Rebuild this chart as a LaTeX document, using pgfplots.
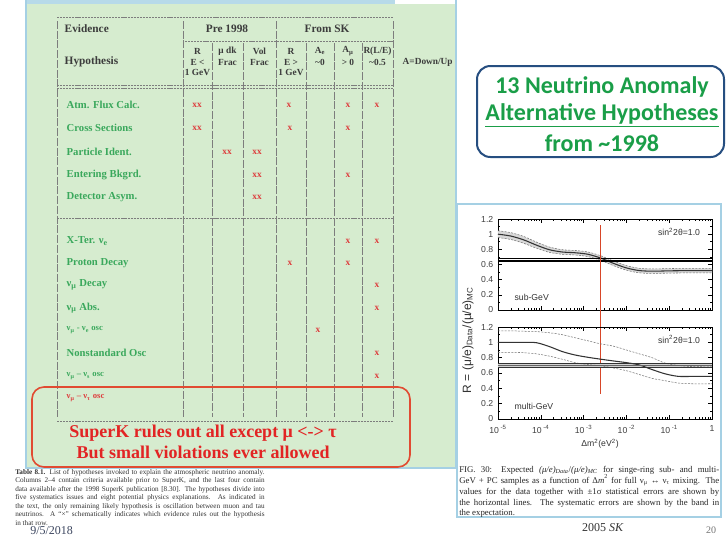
\documentclass[border=0pt]{standalone}
\usepackage{pgfplots}
\pgfplotsset{compat=1.18}
\usepackage{pgfplotstable}
\usepackage{fontspec}
\setmainfont{Liberation Serif}
\newfontfamily\sans{Liberation Sans}
\newfontfamily\carl{Carlito}
\newcommand\fs[1]{\fontsize{#1}{#1}\selectfont}
\definecolor{panelgreen}{RGB}{214,236,207}
\definecolor{txtgreen}{RGB}{58,168,92}
\definecolor{xred}{RGB}{222,62,62}
\definecolor{lblue}{RGB}{165,208,228}
\definecolor{dblue}{RGB}{38,78,128}
\definecolor{titlegreen}{RGB}{26,158,72}
\definecolor{redline}{RGB}{215,70,40}
\definecolor{hdr}{RGB}{60,60,60}
\definecolor{barg}{RGB}{125,125,125}
\definecolor{boxred}{RGB}{225,75,50}
\definecolor{msgred}{RGB}{226,36,36}

\pgfplotstableread{
x c u l
1e-5 1.00 1.045 0.955
2e-5 0.975 1.02 0.93
3.98e-5 0.925 0.97 0.88
7.94e-5 0.855 0.895 0.815
1.585e-4 0.795 0.83 0.76
3.16e-4 0.765 0.795 0.735
6.31e-4 0.755 0.785 0.725
1.26e-3 0.735 0.765 0.705
2.51e-3 0.685 0.715 0.655
5.01e-3 0.615 0.645 0.585
1e-2 0.555 0.585 0.525
2e-2 0.52 0.55 0.49
3.98e-2 0.512 0.542 0.482
7.94e-2 0.515 0.545 0.485
0.158 0.518 0.548 0.488
1 0.52 0.55 0.49
}\subgev

\pgfplotstableread{
x y
1e-5 1.045
2e-5 1.02
3.98e-5 0.97
7.94e-5 0.895
1.585e-4 0.83
3.16e-4 0.795
6.31e-4 0.785
1.26e-3 0.765
2.51e-3 0.715
5.01e-3 0.645
1e-2 0.585
2e-2 0.55
3.98e-2 0.542
7.94e-2 0.545
0.158 0.548
1 0.55
1 0.49
0.158 0.488
7.94e-2 0.485
3.98e-2 0.482
2e-2 0.49
1e-2 0.525
5.01e-3 0.585
2.51e-3 0.655
1.26e-3 0.705
6.31e-4 0.725
3.16e-4 0.735
1.585e-4 0.76
7.94e-5 0.815
3.98e-5 0.88
2e-5 0.93
1e-5 0.955
}\subband

\pgfplotstableread{
x c u l
1e-5 1.00 1.15 0.87
2e-5 1.00 1.15 0.87
3.98e-5 1.00 1.145 0.865
7.94e-5 0.995 1.14 0.85
1.585e-4 0.945 1.125 0.82
3.16e-4 0.88 1.10 0.78
6.31e-4 0.835 1.06 0.735
1.26e-3 0.805 1.02 0.71
2.51e-3 0.78 0.98 0.695
5.01e-3 0.757 0.95 0.665
1e-2 0.735 0.90 0.63
2e-2 0.705 0.85 0.58
3.98e-2 0.645 0.80 0.53
7.94e-2 0.59 0.73 0.50
0.158 0.557 0.70 0.47
0.316 0.555 0.685 0.46
1 0.555 0.68 0.46
}\multigev

\tikzset{
  cen/.style={black!80, line width=0.8pt, smooth},
  dsh/.style={black!55, line width=0.4pt, dash pattern=on 1.5pt off 1pt, smooth},
}

\begin{document}
\begin{tikzpicture}[x=0.75pt,y=0.75pt]
\useasboundingbox (0,0) rectangle (726,-536);
\fill[white] (0,0) rectangle (726,-536);

% ---------- green table panel ----------
\fill[panelgreen] (26,-4) rectangle (456,-468);
\fill[lblue!80] (26,0) rectangle (395,-4);
\draw[lblue, line width=1pt] (26,0) -- (26,-468) -- (456,-468) -- (456,0);

\foreach \x in {57,183,276,393}
  \draw[barg, line width=0.5pt, dash pattern=on 6pt off 1.3pt] (\x,-21) -- (\x,-417);
\foreach \x in {212,243,306,334,362}
  \draw[barg, line width=0.5pt, dash pattern=on 6pt off 1.3pt] (\x,-43) -- (\x,-417);
\draw[barg, line width=0.5pt, dash pattern=on 1.6pt off 0.7pt] (57,-17) -- (393,-17);
\draw[barg, line width=0.5pt, dash pattern=on 1.6pt off 0.7pt] (185,-41) -- (393,-41);
\draw[barg, line width=0.4pt, dash pattern=on 1.6pt off 0.7pt] (57,-85.5) -- (393,-85.5);
\draw[barg, line width=0.4pt, dash pattern=on 1.6pt off 0.7pt] (57,-88) -- (393,-88);
\draw[barg, line width=0.5pt, dash pattern=on 1.6pt off 0.7pt] (57,-218) -- (393,-218);
\draw[barg, line width=0.5pt, dash pattern=on 1.6pt off 0.7pt] (57,-421) -- (393,-421);

\begin{scope}[every node/.style={text=hdr, font=\bfseries\fs{8.5}}]
\node[anchor=west] at (60,-29) {Evidence};
\node at (227,-29) {Pre 1998};
\node at (327,-29) {From SK};
\node[anchor=west] at (60,-62) {Hypothesis};
\node[anchor=west, font=\bfseries\fs{7}] at (398,-62) {A=Down/Up};
\end{scope}
\begin{scope}[every node/.style={text=hdr, font=\bfseries\fs{7}}]
\node at (197.5,-51) {R};
\node at (197.5,-62) {E <};
\node at (197.5,-72) {1 GeV};
\node at (227.5,-51) {μ dk};
\node at (227.5,-62) {Frac};
\node at (259.5,-51) {Vol};
\node at (259.5,-62) {Frac};
\node at (291,-51) {R};
\node at (291,-62) {E >};
\node at (291,-72) {1 GeV};
\node at (320,-51) {A\textsubscript{e}};
\node at (320,-62) {\textasciitilde 0};
\node at (348,-51) {A\textsubscript{μ}};
\node at (348,-62) {> 0};
\node at (377.5,-51) {R(L/E)};
\node at (377.5,-62) {\textasciitilde 0.5};
\end{scope}

\begin{scope}[every node/.style={anchor=west, text=txtgreen, font=\bfseries\fs{8}}]
\node at (62,-105) {Atm. Flux Calc.};
\node at (62,-128) {Cross Sections};
\node at (62,-152) {Particle Ident.};
\node at (62,-175) {Entering Bkgrd.};
\node at (62,-197) {Detector Asym.};
\node at (62,-241) {X-Ter. ν\textsubscript{e}};
\node at (62,-263) {Proton Decay};
\node at (62,-285) {ν\textsubscript{μ} Decay};
\node at (62,-308) {ν\textsubscript{μ} Abs.};
\node[font=\bfseries\fs{6.5}] at (62,-330) {ν\textsubscript{μ} - ν\textsubscript{e} osc};
\node at (62,-353) {Nonstandard Osc};
\node[font=\bfseries\fs{6.5}] at (62,-376) {ν\textsubscript{μ} – ν\textsubscript{s} osc};
\node[font=\bfseries\fs{6.5}, text=xred] at (62,-398) {ν\textsubscript{μ} – ν\textsubscript{τ} osc};
\end{scope}

\foreach \x/\y/\t in {197/105/xx, 289/105/x, 348/105/x, 377/105/x,
  197/128/xx, 290/128/x, 348/128/x,
  227/152/xx, 257/152/xx,
  257/175/xx, 348/175/x,
  257/197/xx,
  348/241/x, 377/241/x,
  290/263/x, 348/263/x,
  377/285/x, 377/308/x, 318/330/x, 377/353/x, 377/376/x}
  \node[text=xred, font=\bfseries\fs{7}] at (\x,-\y) {\t};

\draw[boxred, line width=1.2pt, rounded corners=9pt] (32,-387) rectangle (410,-467);
\node[text=msgred, font=\bfseries\fs{13.5}] at (203,-433) {SuperK rules out all except μ <-> τ};
\node[text=msgred, font=\bfseries\fs{13.5}] at (203,-452) {But small violations ever allowed};

\begin{scope}[every node/.style={anchor=base west, inner sep=0pt, font=\rmfamily\fs{5.4}, text=black!80}]
\node at (15,-474) {\makebox[187pt][s]{\textbf{Table 8.1.} List of hypotheses invoked to explain the atmospheric neutrino anomaly.}};
\node at (15,-482.5) {\makebox[187pt][s]{Columns 2–4 contain criteria available prior to SuperK, and the last four contain}};
\node at (15,-491) {\makebox[187pt][s]{data available after the 1998 SuperK publication [8.30]. The hypotheses divide into}};
\node at (15,-499.5) {\makebox[187pt][s]{five systematics issues and eight potential physics explanations. As indicated in}};
\node at (15,-508) {\makebox[187pt][s]{the text, the only remaining likely hypothesis is oscillation between muon and tau}};
\node at (15,-516.5) {\makebox[187pt][s]{neutrinos. A “×” schematically indicates which evidence rules out the hypothesis}};
\node at (15,-525) {in that row.};
\end{scope}
\node[anchor=base west, inner sep=0pt, text={rgb,255:red,60;green,70;blue,95}, font=\fs{9}] at (30,-534.5) {9/5/2018};

\draw[dblue, line width=1.5pt, rounded corners=10pt, fill=white] (477,-66) rectangle (724,-157);
\node[text=titlegreen, font=\carl\bfseries\fs{18}] at (602,-87) {13 Neutrino Anomaly};
\node[text=titlegreen, font=\carl\bfseries\fs{18}] at (602,-115) {\underline{Alternative Hypotheses}};
\node[text=titlegreen, font=\carl\bfseries\fs{18}] at (602,-143) {from \textasciitilde 1998};

\draw[lblue, line width=1.2pt, fill=white] (457,-204) rectangle (721,-517);

\begin{axis}[at={(373.5pt,-232.5pt)}, anchor=south west,
    scale only axis, width=160.5pt, height=68.25pt,
    xmode=log, xmin=1e-5, xmax=1, ymin=0, ymax=1.2,
    ytick={0,0.2,0.4,0.6,0.8,1,1.2},
    yticklabels={0,0.2,0.4,0.6,0.8,1,1.2},
    xticklabels={},
    minor y tick num=1,
    tick align=inside, xtick pos=both, ytick pos=both,
    major tick length=3pt, minor tick length=1.5pt,
    tick style={black, line width=0.4pt},
    axis line style={line width=0.6pt},
    tick label style={font=\sans\fs{6.5}, text=black!75},
    clip=false]
\addplot[fill=gray!30, draw=none] table[x=x, y=y] {\subband} -- cycle;
\addplot[dsh] table[x=x, y=u] {\subgev};
\addplot[dsh] table[x=x, y=l] {\subgev};
\addplot[cen] table[x=x, y=c] {\subgev};
\addplot[black, line width=0.6pt] coordinates {(1e-5,0.642) (1,0.642)};
\addplot[black, line width=0.6pt] coordinates {(1e-5,0.658) (1,0.658)};
\addplot[black, line width=0.6pt] coordinates {(1e-5,0.674) (1,0.674)};
\node[font=\sans\fs{6.5}, text=black!80] at (axis cs:0.17,1.03) {sin\textsuperscript{2}2θ=1.0};
\node[anchor=west, font=\sans\fs{6.5}, text=black!80] at (axis cs:1.9e-5,0.16) {sub-GeV};
\addplot[redline, line width=1pt] coordinates {(2.5e-3,1.12) (2.5e-3,-1.107)};
\end{axis}

\begin{axis}[at={(373.5pt,-314.25pt)}, anchor=south west,
    scale only axis, width=160.5pt, height=69pt,
    xmode=log, xmin=1e-5, xmax=1, ymin=0, ymax=1.2,
    ytick={0,0.2,0.4,0.6,0.8,1,1.2},
    yticklabels={0,0.2,0.4,0.6,0.8,1,1.2},
    xtick={1e-5,1e-4,1e-3,1e-2,1e-1,1},
    xticklabels={10\textsuperscript{ -5},10\textsuperscript{ -4},10\textsuperscript{ -3},10\textsuperscript{ -2},10\textsuperscript{ -1},1},
    xticklabel style={yshift=-1.5pt},
    minor y tick num=1,
    tick align=inside, xtick pos=both, ytick pos=both,
    major tick length=3pt, minor tick length=1.5pt,
    tick style={black, line width=0.4pt},
    axis line style={line width=0.6pt},
    tick label style={font=\sans\fs{6.5}, text=black!75},
    clip=false]
\addplot[fill=gray!35, draw=none] coordinates {(1e-5,0.67) (1,0.67) (1,0.73) (1e-5,0.73)} -- cycle;
\addplot[dsh] table[x=x, y=u] {\multigev};
\addplot[dsh] table[x=x, y=l] {\multigev};
\addplot[cen] table[x=x, y=c] {\multigev};
\addplot[black!80, line width=0.5pt] coordinates {(1e-5,0.67) (1,0.67)};
\addplot[black!60, line width=0.4pt] coordinates {(1e-5,0.70) (1,0.70)};
\addplot[black!80, line width=0.5pt] coordinates {(1e-5,0.73) (1,0.73)};
\node[font=\sans\fs{6.5}, text=black!80] at (axis cs:0.17,1.04) {sin\textsuperscript{2}2θ=1.0};
\node[anchor=west, font=\sans\fs{6.5}, text=black!80] at (axis cs:1.9e-5,0.16) {multi-GeV};
\end{axis}

\node[rotate=90, font=\sans\fs{9}, text=black!80] at (468,-340) {R = (μ/e)\textsubscript{Data}/(μ/e)\textsubscript{MC}};
\node[font=\sans\fs{6.5}, text=black!80] at (600,-444) {Δm\textsuperscript{2}(eV\textsuperscript{2})};

\begin{scope}[every node/.style={anchor=base west, inner sep=0pt, font=\fs{6.6}, text=black!85}]
\node at (459,-472) {\makebox[195pt][s]{FIG. 30: Expected \textit{(μ/e)}\textsubscript{\textit{Data}}/\textit{(μ/e)}\textsubscript{\textit{MC}} for singe-ring sub- and multi-}};
\node at (459,-483) {\makebox[195pt][s]{GeV + PC samples as a function of Δ\textit{m}\textsuperscript{2} for full ν\textsubscript{μ} ↔ ν\textsubscript{τ} mixing. The}};
\node at (459,-494) {\makebox[195pt][s]{values for the data together with ±1σ statistical errors are shown by}};
\node at (459,-505) {\makebox[195pt][s]{the horizontal lines. The systematic errors are shown by the band in}};
\node at (459,-515) {the expectation.};
\end{scope}
\node[anchor=base, text=black!80, font=\fs{9}] at (603,-531) {2005 \textit{SK}};
\node[anchor=base, text=black!55, font=\fs{7.5}] at (711,-533) {20};
\end{tikzpicture}
\end{document}
